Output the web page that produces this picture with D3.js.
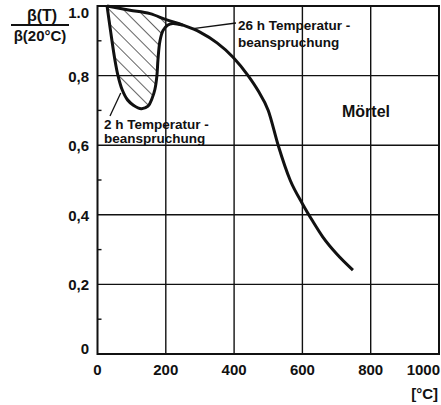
<!DOCTYPE html>
<html>
<head>
<meta charset="utf-8">
<script src="https://cdn.jsdelivr.net/npm/d3@7"></script>
<style>
  html, body { margin: 0; padding: 0; background: #fff; }
  svg { display: block; }
  text { font-family: "Liberation Sans", Arial, sans-serif; fill: #111; }
</style>
</head>
<body>
<svg id="chart" width="441" height="405"></svg>
<script>
// Relative strength β(T)/β(20°C) of mortar after heating
const xTicks = [0, 200, 400, 600, 800, 1000];
const yTicks = [0, 0.2, 0.4, 0.6, 0.8, 1.0];
const yTickLabels = ["0", "0,2", "0,4", "0,6", "0,8", "1.0"];
const yMinorTicks = [0.1, 0.3, 0.5, 0.7, 0.9];

// 26 h heating: temperature (°C) and relative strength
const temp26h = [28, 95, 154, 203, 250, 300, 350, 397, 441, 470, 500, 529, 564, 600, 630, 660, 700, 748];
const rel26h  = [1.0, 0.988, 0.978, 0.96, 0.945, 0.925, 0.894, 0.853, 0.80, 0.757, 0.70, 0.60, 0.50, 0.432, 0.382, 0.336, 0.288, 0.241];

// 2 h heating: loop below the 26 h curve, rejoining it near 250 °C
const temp2h = [28, 38, 51, 60, 72, 88, 105, 128, 148, 160, 168, 174, 177, 183, 192, 205, 220, 250];
const rel2h  = [1.0, 0.93, 0.845, 0.80, 0.76, 0.73, 0.715, 0.705, 0.712, 0.735, 0.76, 0.80, 0.845, 0.90, 0.93, 0.945, 0.95, 0.945];

const svg = d3.select("#chart");
const x = d3.scaleLinear().domain([0, 1000]).range([97.5, 439]);
const y = d3.scaleLinear().domain([0, 1]).range([354, 6]);

const pts26 = temp26h.map((t, i) => [t, rel26h[i]]);
const pts2 = temp2h.map((t, i) => [t, rel2h[i]]);

const line26 = d3.line()
  .x(d => x(d[0]))
  .y(d => y(d[1]))
  .curve(d3.curveMonotoneX);
const line2 = d3.line()
  .x(d => x(d[0]))
  .y(d => y(d[1]))
  .curve(d3.curveCatmullRom.alpha(0.5));

// hatch pattern
const defs = svg.append("defs");
const pat = defs.append("pattern")
  .attr("id", "hatch")
  .attr("patternUnits", "userSpaceOnUse")
  .attr("width", 10).attr("height", 10)
  .attr("patternTransform", "rotate(-45)");
pat.append("line")
  .attr("x1", 0).attr("y1", 0).attr("x2", 0).attr("y2", 10)
  .attr("stroke", "#111").attr("stroke-width", 1.3);

// region between the two curves
const upperBack = pts26.filter(d => d[0] <= 250).reverse();
const areaPath = line2(pts2) + "L" + line26(upperBack).slice(1) + "Z";
svg.append("path")
  .attr("d", areaPath)
  .attr("fill", "url(#hatch)")
  .attr("stroke", "none");

// grid
const grid = svg.append("g").attr("stroke", "#111").attr("stroke-width", 1.4);
xTicks.slice(1, -1).forEach(t => {
  grid.append("line").attr("x1", x(t)).attr("x2", x(t)).attr("y1", y(0)).attr("y2", y(1));
});
yTicks.slice(1, -1).forEach(v => {
  grid.append("line").attr("x1", x(0)).attr("x2", x(1000)).attr("y1", y(v)).attr("y2", y(v));
});
// minor ticks on the left axis
yMinorTicks.forEach(v => {
  grid.append("line").attr("x1", x(0)).attr("x2", x(0) + 4).attr("y1", y(v)).attr("y2", y(v));
});

// frame
svg.append("rect")
  .attr("x", x(0)).attr("y", y(1))
  .attr("width", x(1000) - x(0)).attr("height", y(0) - y(1))
  .attr("fill", "none").attr("stroke", "#111").attr("stroke-width", 2);

// curves
svg.append("path").attr("d", line26(pts26))
  .attr("fill", "none").attr("stroke", "#111").attr("stroke-width", 3);
svg.append("path").attr("d", line2(pts2))
  .attr("fill", "none").attr("stroke", "#111").attr("stroke-width", 3);

// tick labels
const tickFont = 15;
xTicks.forEach((t, i) => {
  const last = i === xTicks.length - 1;
  svg.append("text")
    .attr("x", last ? x(t) + 1 : x(t))
    .attr("y", 375)
    .attr("text-anchor", last ? "end" : "middle")
    .attr("font-size", tickFont)
    .attr("font-weight", "bold")
    .text(t);
});
yTicks.forEach((v, i) => {
  svg.append("text")
    .attr("x", 89)
    .attr("y", y(v) + (v === 1 ? 12 : (v === 0 ? 0 : 6)))
    .attr("text-anchor", "end")
    .attr("font-size", tickFont)
    .attr("font-weight", "bold")
    .text(yTickLabels[i]);
});

// axis titles
svg.append("text").attr("x", 42).attr("y", 21).attr("text-anchor", "middle")
  .attr("font-size", 16).attr("font-weight", "bold").text("β(T)");
svg.append("line").attr("x1", 11).attr("x2", 69).attr("y1", 25).attr("y2", 25)
  .attr("stroke", "#111").attr("stroke-width", 1.8);
svg.append("text").attr("x", 40).attr("y", 41).attr("text-anchor", "middle")
  .attr("font-size", 15).attr("font-weight", "bold").text("β(20°C)");
svg.append("text").attr("x", 438).attr("y", 399).attr("text-anchor", "end")
  .attr("font-size", 15).attr("font-weight", "bold").text("[°C]");

// annotations
const ann = svg.append("g").attr("font-size", 13.5).attr("font-weight", "bold");
svg.append("line")
  .attr("x1", x(280)).attr("y1", y(0.935))
  .attr("x2", 236).attr("y2", 23)
  .attr("stroke", "#111").attr("stroke-width", 1.3);
ann.append("text").attr("x", 238).attr("y", 30).text("26 h Temperatur -");
ann.append("text").attr("x", 238).attr("y", 47).text("beanspruchung");

svg.append("line")
  .attr("x1", x(68)).attr("y1", y(0.75))
  .attr("x2", 110).attr("y2", 116)
  .attr("stroke", "#111").attr("stroke-width", 1.3);
ann.append("text").attr("x", 104).attr("y", 129).text("2 h Temperatur -");
ann.append("text").attr("x", 104).attr("y", 143).text("beanspruchung");

svg.append("text").attr("x", 366).attr("y", 117).attr("text-anchor", "middle")
  .attr("font-size", 16).attr("font-weight", "bold").text("Mörtel");
</script>
</body>
</html>
